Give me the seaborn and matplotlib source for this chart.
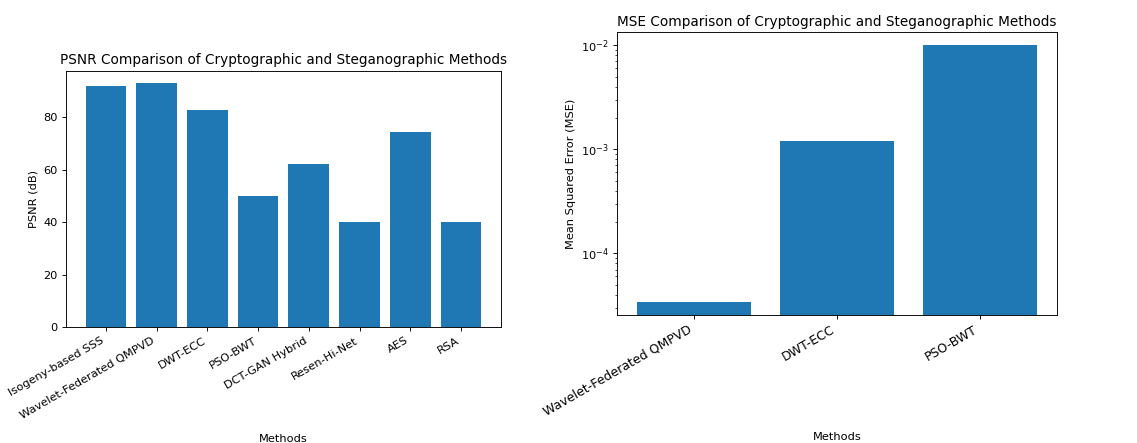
import matplotlib
matplotlib.use("Agg")

import pandas as pd
import matplotlib.pyplot as plt
import seaborn as sns

# -----------------------------
# Data
# -----------------------------

psnr_methods = [
    "Isogeny-based SSS",
    "Wavelet-Federated QMPVD",
    "DWT-ECC",
    "PSO-BWT",
    "DCT-GAN Hybrid",
    "Resen-Hi-Net",
    "AES",
    "RSA",
]
psnr_values = [92.0, 93.0, 82.8, 50.0, 62.2, 40.0, 74.2, 40.0]

mse_methods = ["Wavelet-Federated QMPVD", "DWT-ECC", "PSO-BWT"]
mse_values = [3.4e-5, 1.2e-3, 1.0e-2]

psnr_df = pd.DataFrame({"Methods": psnr_methods, "PSNR": psnr_values})
mse_df = pd.DataFrame({"Methods": mse_methods, "MSE": mse_values})

bar_color = "#1f77b4"

# reference looks like a downscaled render, so use a lower dpi
DPI = 82
fig = plt.figure(figsize=(1137 / DPI, 443 / DPI), dpi=DPI)

# -----------------------------
# PSNR plot
# -----------------------------

ax1 = fig.add_axes([0.0578, 0.2612, 0.3829, 0.5792])
sns.barplot(
    data=psnr_df,
    x="Methods",
    y="PSNR",
    color=bar_color,
    saturation=1,
    width=0.8,
    ax=ax1,
)
n1 = len(psnr_methods)
ax1.set_xlim(-0.4 - 0.39, n1 - 0.6 + 0.39)
ax1.set_ylim(0, max(psnr_values) * 1.05)
ax1.set_title("PSNR Comparison of Cryptographic and Steganographic Methods")
ax1.set_xlabel("Methods", labelpad=12)
ax1.set_ylabel("PSNR (dB)")
plt.setp(ax1.get_xticklabels(), rotation=30, ha="right")

# -----------------------------
# MSE plot (log scale)
# -----------------------------

ax2 = fig.add_axes([0.5424, 0.2889, 0.3873, 0.6381])
ax2.set_yscale("log")
sns.barplot(
    data=mse_df,
    x="Methods",
    y="MSE",
    color=bar_color,
    saturation=1,
    width=0.8,
    ax=ax2,
)
n2 = len(mse_methods)
ax2.set_xlim(-0.4 - 0.14, n2 - 0.6 + 0.14)
ax2.set_title("MSE Comparison of Cryptographic and Steganographic Methods")
ax2.set_xlabel("Methods", labelpad=12)
ax2.set_ylabel("Mean Squared Error (MSE)")
plt.setp(ax2.get_xticklabels(), rotation=30, ha="right", fontsize=11)

fig.savefig("out.png", dpi=DPI)
plt.close(fig)
